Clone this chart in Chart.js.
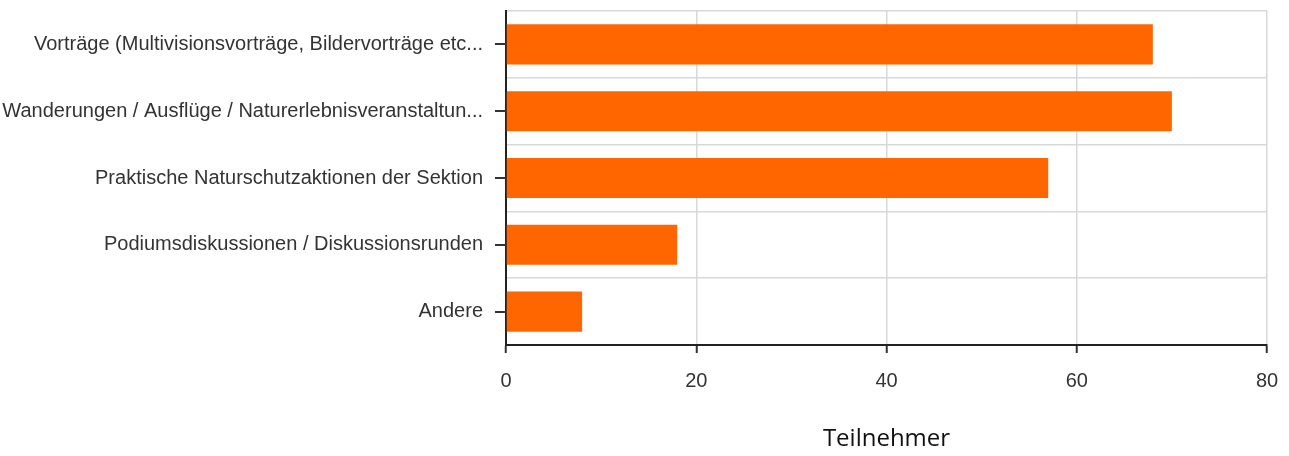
<!DOCTYPE html>
<html>
<head>
<meta charset="utf-8">
<script src="https://cdn.jsdelivr.net/npm/chart.js@4/dist/chart.umd.min.js"></script>
<style>
  html, body { margin: 0; padding: 0; background: #fff; }
  #wrap { width: 1289px; height: 456px; }
</style>
</head>
<body>
<div id="wrap"><canvas id="barChart"></canvas></div>
<script>
const categories = [
    'Vorträge (Multivisionsvorträge, Bildervorträge etc...',
    'Wanderungen / Ausflüge / Naturerlebnisveranstaltun...',
    'Praktische Naturschutzaktionen der Sektion',
    'Podiumsdiskussionen / Diskussionsrunden',
    'Andere'
];
const teilnehmer = [68, 70, 57, 18, 8];
const axisTitle = 'Teilnehmer';

// short tick marks at the middle of each category, left of the axis
const categoryTicks = {
    id: 'categoryTicks',
    afterDraw(chart) {
        const y = chart.scales.y;
        const ctx = chart.ctx;
        ctx.save();
        ctx.strokeStyle = '#333';
        ctx.lineWidth = 2;
        categories.forEach((c, i) => {
            const py = Math.round(y.getPixelForValue(i));
            ctx.beginPath();
            ctx.moveTo(y.right - 11, py);
            ctx.lineTo(y.right, py);
            ctx.stroke();
        });
        ctx.restore();
    }
};

const labelFont = { family: '"Liberation Sans", Arial, sans-serif', size: 20 };

new Chart(document.getElementById('barChart'), {
    type: 'bar',
    data: {
        labels: categories,
        datasets: [{
            label: axisTitle,
            data: teilnehmer,
            backgroundColor: '#ff6600',
            borderWidth: 0,
            barPercentage: 0.6,
            categoryPercentage: 1.0,
        }]
    },
    options: {
        indexAxis: 'y',
        responsive: true,
        maintainAspectRatio: false,
        animation: false,
        layout: { padding: { top: 11, right: 22, left: 0, bottom: 0 } },
        plugins: {
            legend: { display: false },
            tooltip: { enabled: false }
        },
        scales: {
            x: {
                min: 0,
                max: 80,
                ticks: {
                    stepSize: 20,
                    color: '#333',
                    padding: 16,
                    font: labelFont
                },
                grid: {
                    color: '#d8d8d8',
                    lineWidth: 1.5,
                    tickColor: '#333',
                    tickWidth: 2,
                    tickLength: 8
                },
                border: { color: '#222', width: 2 },
                title: {
                    display: true,
                    text: axisTitle,
                    color: '#111',
                    padding: { top: 0, bottom: 2 },
                    font: { family: '"Open Sans", sans-serif', size: 24 }
                },
                afterFit(scale) {
                    scale.height = 111;
                    scale.paddingLeft = 0;
                    scale.paddingRight = 0;
                }
            },
            y: {
                ticks: {
                    color: '#333',
                    padding: 23,
                    font: labelFont
                },
                grid: {
                    offset: true,
                    color: '#d8d8d8',
                    lineWidth: 1.5,
                    drawTicks: false
                },
                border: { color: '#222', width: 2 },
                afterFit(scale) {
                    scale.width = 506;
                    scale.paddingTop = 0;
                    scale.paddingBottom = 0;
                }
            }
        }
    },
    plugins: [categoryTicks]
});
</script>
</body>
</html>
